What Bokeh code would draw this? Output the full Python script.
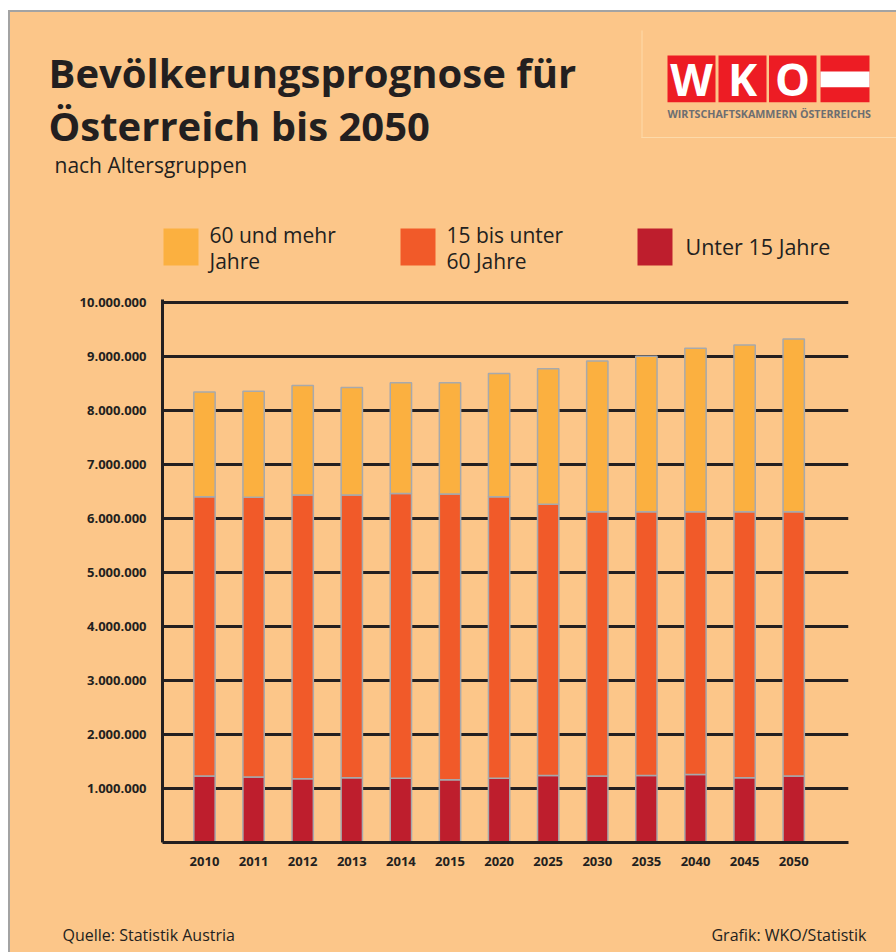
import re
from bokeh.plotting import figure
from bokeh.models import ColumnDataSource, FixedTicker, Range1d
from bokeh.layouts import column, row
from bokeh.core.properties import value
from bokeh.embed import file_html
from bokeh.resources import INLINE

# ---------------- data ----------------
years = ["2010", "2011", "2012", "2013", "2014", "2015", "2020",
         "2025", "2030", "2035", "2040", "2045", "2050"]
under_15 = [1230000, 1210000, 1180000, 1200000, 1190000, 1160000, 1190000,
            1240000, 1230000, 1240000, 1260000, 1200000, 1230000]
age_15_60 = [5170000, 5180000, 5250000, 5230000, 5270000, 5290000, 5210000,
             5020000, 4890000, 4880000, 4860000, 4920000, 4890000]
age_60_plus = [1940000, 1960000, 2030000, 1990000, 2050000, 2060000, 2280000,
               2510000, 2790000, 2880000, 3030000, 3090000, 3200000]
legend_labels = [["60 und mehr", "Jahre"], ["15 bis unter", "60 Jahre"], ["Unter 15 Jahre"]]
y_ticks = [1000000, 2000000, 3000000, 4000000, 5000000,
           6000000, 7000000, 8000000, 9000000, 10000000]
y_tick_labels = ["1.000.000", "2.000.000", "3.000.000", "4.000.000", "5.000.000",
                 "6.000.000", "7.000.000", "8.000.000", "9.000.000", "10.000.000"]

# ---------------- style ----------------
BG = "#FCC689"
C_60 = "#FBB040"
C_15 = "#F15A29"
C_U15 = "#BE1E2D"
DARK = "#231F20"
GREY = "#A3A3A3"
LR = "#ED1C24"
FONT = "Open Sans"

W = 896
H_HEAD, H_CHART, H_FOOT = 280, 620, 52


def blank(width, height):
    f = figure(width=width, height=height, output_backend="svg", toolbar_location=None,
               x_range=Range1d(0, width), y_range=Range1d(height, 0),
               x_axis_type=None, y_axis_type=None, min_border=0)
    f.background_fill_color = None
    f.border_fill_color = None
    f.outline_line_color = None
    f.grid.visible = False
    return f


def rect(f, l, r, t, b, color):
    f.quad(left=[l], right=[r], top=[t], bottom=[b], fill_color=color, line_color=None)


def txt(f, x, y, s, size, color=DARK, style="normal", align="left"):
    # y is the wanted baseline (pixels from top of this figure)
    f.text(x=[x], y=[y - 0.37 * size], text=[s], text_font=value(FONT),
           text_font_size=f"{size}px", text_font_style=style, text_color=color,
           text_align=align, text_baseline="alphabetic")


# ---------------- header ----------------
head = blank(W, H_HEAD)
txt(head, 48, 87, "Bevölkerungsprognose für", 40, style="bold")
txt(head, 48, 140, "Österreich bis 2050", 40, style="bold")
txt(head, 54, 172, "nach Altersgruppen", 21)

legend_colors = [C_60, C_15, C_U15]
legend_x = [163, 400, 637]
for lx, col, lines in zip(legend_x, legend_colors, legend_labels):
    rect(head, lx, lx + 35, 228, 265, col)
    if len(lines) == 2:
        txt(head, lx + 46, 242, lines[0], 21)
        txt(head, lx + 46, 268, lines[1], 21)
    else:
        txt(head, lx + 48, 254, lines[0], 21.5)

# logo
rect(head, 641, 642, 30, 137.5, "#FDDAAA")
rect(head, 641, W + 5, 136.5, 137.5, "#FDDAAA")
rect(head, 667, 715, 55, 101.7, LR)
rect(head, 718, 766, 55, 101.7, LR)
rect(head, 768.5, 816, 55, 101.7, LR)
rect(head, 820, 869, 55, 101.7, LR)
rect(head, 820, 869, 71, 86.7, "white")
txt(head, 691, 95, "W", 44, color="white", style="bold", align="center")
txt(head, 742, 95, "K", 44, color="white", style="bold", align="center")
txt(head, 792, 95, "O", 44, color="white", style="bold", align="center")
txt(head, 667, 117, "WIRTSCHAFTSKAMMERN ÖSTERREICHS", 10.7, color="#6D6E71", style="bold")

# ---------------- chart ----------------
FL, FT, FR, FB = 162, 299, 848, 842          # frame edges (page pixels)
X0, X1 = -0.855, 13.116
Y1 = 10050000

p = figure(width=W, height=H_CHART, output_backend="svg", toolbar_location=None,
           x_range=Range1d(X0, X1), y_range=Range1d(0, Y1),
           min_border_left=FL, min_border_right=W - FR,
           min_border_top=FT - H_HEAD, min_border_bottom=H_HEAD + H_CHART - FB)
p.background_fill_color = None
p.border_fill_color = None
p.outline_line_color = None

src = ColumnDataSource(dict(x=list(range(len(years))), u15=under_15,
                            mid=age_15_60, o60=age_60_plus))
p.vbar_stack(["u15", "mid", "o60"], x="x", width=0.434, source=src,
             color=[C_U15, C_15, C_60], line_color="#A7A9AC", line_width=1.5)

p.xgrid.visible = False
p.ygrid.ticker = FixedTicker(ticks=y_ticks)
p.ygrid.grid_line_color = DARK
p.ygrid.grid_line_width = 3

p.yaxis.ticker = FixedTicker(ticks=y_ticks)
p.yaxis.major_label_overrides = {t: l for t, l in zip(y_ticks, y_tick_labels)}
p.xaxis.ticker = FixedTicker(ticks=list(range(len(years))))
p.xaxis.major_label_overrides = {i: y for i, y in enumerate(years)}
for ax in (p.xaxis, p.yaxis):
    ax.axis_line_color = DARK
    ax.axis_line_width = 3
    ax.major_tick_line_color = None
    ax.minor_tick_line_color = None
    ax.major_label_text_font = FONT
    ax.major_label_text_font_style = "bold"
    ax.major_label_text_font_size = "13px"
    ax.major_label_text_color = DARK
p.yaxis.major_label_standoff = 10
p.xaxis.major_label_standoff = 8

# ---------------- footer ----------------
foot = blank(W, H_FOOT)
txt(foot, 62, 40, "Quelle: Statistik Austria", 16)
txt(foot, 866, 40, "Grafik: WKO/Statistik", 16, align="right")

layout = column(head, row(p, spacing=0), foot, spacing=0)
html = file_html(layout, INLINE)

# page sheet: white margin with a grey rule at top and left, orange paper
page_bg = ("linear-gradient(to right, #FFFFFF 0px, #FFFFFF 8px, rgba(0,0,0,0) 8px), "
           "linear-gradient(to bottom, #FFFFFF 0px, #FFFFFF 10px, rgba(0,0,0,0) 10px), "
           "linear-gradient(to right, rgba(0,0,0,0) 8px, " + GREY + " 8px, " + GREY +
           " 10.5px, rgba(0,0,0,0) 10.5px), "
           "linear-gradient(to bottom, rgba(0,0,0,0) 10px, " + GREY + " 10px, " + GREY +
           " 12.5px, rgba(0,0,0,0) 12.5px)")
style = ("<style>html, body { margin: 0 !important; background-color: " + BG +
         " !important; background-image: " + page_bg +
         " !important; background-repeat: no-repeat !important;"
         " background-size: 896px 952px !important; min-height: 952px; }</style>")
html = re.sub(r"</head>", style + "\n</head>", html, count=1, flags=re.I)
open("out.html", "w").write(html)
